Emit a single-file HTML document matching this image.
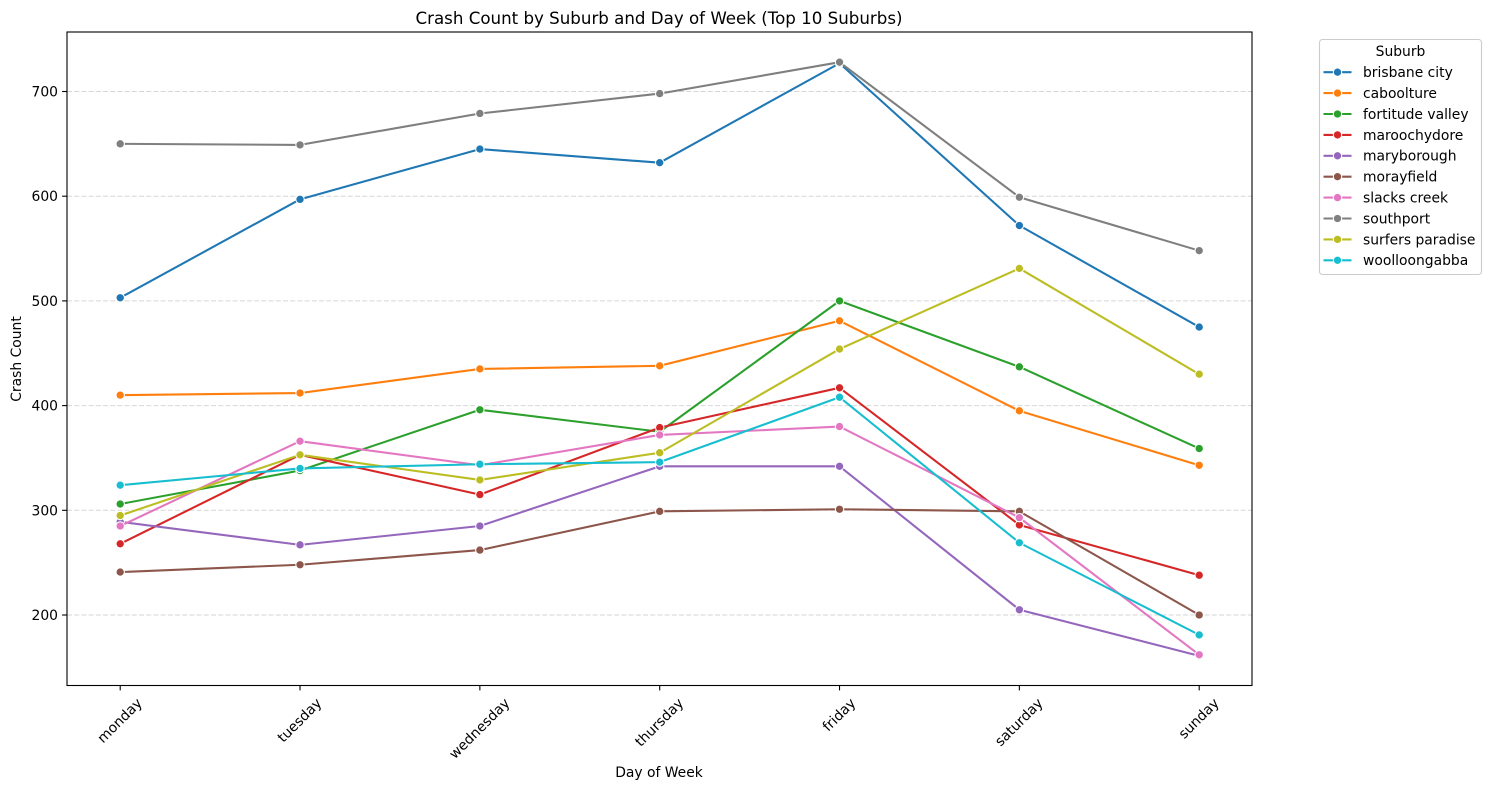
<!DOCTYPE html>
<html>
<head>
<meta charset="utf-8">
<title>Crash Count by Suburb and Day of Week</title>
<style>
html,body{margin:0;padding:0;background:#fff;}
svg{display:block;}
text{font-family:"DejaVu Sans","Liberation Sans",sans-serif;fill:#000;}
</style>
</head>
<body>
<svg id="chart" xmlns="http://www.w3.org/2000/svg" width="1491" height="790" viewBox="0 0 1491 790"></svg>
<script>
const days = ['monday','tuesday','wednesday','thursday','friday','saturday','sunday'];
const yTicks = [200,300,400,500,600,700];
const suburbs = ['brisbane city','caboolture','fortitude valley','maroochydore','maryborough','morayfield','slacks creek','southport','surfers paradise','woolloongabba'];
const colors = ['#1f77b4','#ff7f0e','#2ca02c','#d62728','#9467bd','#8c564b','#e377c2','#7f7f7f','#bcbd22','#17becf'];
const brisbaneCity = [503,597,645,632,727,572,475];
const caboolture = [410,412,435,438,481,395,343];
const fortitudeValley = [306,338,396,375,500,437,359];
const maroochydore = [268,353,315,379,417,286,238];
const maryborough = [289,267,285,342,342,205,161];
const morayfield = [241,248,262,299,301,299,200];
const slacksCreek = [285,366,343,372,380,293,162];
const southport = [650,649,679,698,728,599,548];
const surfersParadise = [295,353,329,355,454,531,430];
const woolloongabba = [324,340,344,346,408,269,181];
const seriesValues = [brisbaneCity,caboolture,fortitudeValley,maroochydore,maryborough,morayfield,slacksCreek,southport,surfersParadise,woolloongabba];

const NS = 'http://www.w3.org/2000/svg';
const svg = document.getElementById('chart');
function mk(tag, attrs, parent, txt){
  const el = document.createElementNS(NS, tag);
  for (const k in attrs) el.setAttribute(k, attrs[k]);
  if (txt !== undefined) el.textContent = txt;
  (parent || svg).appendChild(el);
  return el;
}
const plot = {left:67, right:1252, top:32, bottom:685.5};
function xScale(i){ return 120.2 + i * (1199.2 - 120.2) / (days.length - 1); }
function yScale(v){ return 615 - (v - 200) * (615 - 91.5) / 500; }

const bg = mk('rect', {x:0,y:0,width:1491,height:790,fill:'#fff'});



const title = mk('text', {x:659,y:24,'text-anchor':'middle','font-size':'16.67'}, svg, 'Crash Count by Suburb and Day of Week (Top 10 Suburbs)');



const gridG = mk('g', {});


yTicks.forEach(function(t){
  const y = yScale(t);
  const g = mk('line', {x1:plot.left,x2:plot.right,y1:y,y2:y,stroke:'#000','stroke-opacity':'0.16','stroke-width':'1','stroke-dasharray':'5 2.2'}, gridG);
  
  
});

const seriesG = mk('g', {});


suburbs.forEach(function(name, s){
  const vals = seriesValues[s];
  const key = name.replace(/ /g, '-');
  const g = mk('g', {}, seriesG);
  
  
  const pts = vals.map(function(v, i){ return xScale(i).toFixed(2) + ',' + yScale(v).toFixed(2); }).join(' ');
  const line = mk('polyline', {points:pts,fill:'none',stroke:colors[s],'stroke-width':'2.08','stroke-linejoin':'round','stroke-linecap':'square'}, g);
  
  
  vals.forEach(function(v, i){
    const p = mk('circle', {cx:xScale(i),cy:yScale(v),r:'4.2',fill:colors[s],stroke:'#fff','stroke-width':'1.04'}, g);
    
    
  });
});

const frame = mk('rect', {x:plot.left,y:plot.top,width:plot.right-plot.left,height:plot.bottom-plot.top,fill:'none',stroke:'#000','stroke-width':'1.1'});



const yAxis = mk('g', {});


yTicks.forEach(function(t){
  const y = yScale(t);
  const tick = mk('line', {x1:plot.left-4.9,x2:plot.left,y1:y,y2:y,stroke:'#000','stroke-width':'1.1'}, yAxis);
  
  
  const lab = mk('text', {x:plot.left-9,y:y+5,'text-anchor':'end','font-size':'13.89'}, yAxis, String(t));
  
  
});
const yTitle = mk('text', {x:0,y:0,'text-anchor':'middle','font-size':'13.89',transform:'translate(21 359) rotate(-90)'}, svg, 'Crash Count');



const xAxis = mk('g', {});


days.forEach(function(d, i){
  const x = xScale(i);
  const tick = mk('line', {x1:x,x2:x,y1:plot.bottom,y2:plot.bottom+4.9,stroke:'#000','stroke-width':'1.1'}, xAxis);
  
  
  const lab = mk('text', {x:0,y:0,'text-anchor':'middle','font-size':'13.89'}, xAxis, d);
  
  
  const w = lab.getComputedTextLength();
  const cy = 696 + (w + 13) * 0.3535;
  lab.setAttribute('transform', 'translate(' + (x - 0.5) + ' ' + cy + ') rotate(-45) translate(0 4.7)');
});
const xTitle = mk('text', {x:659,y:777,'text-anchor':'middle','font-size':'13.89'}, svg, 'Day of Week');



const legend = mk('g', {});


const legendBox = mk('rect', {x:1319.5,y:39.5,width:162,height:235,rx:'3',ry:'3',fill:'#fff','fill-opacity':'0.8',stroke:'#ccc','stroke-width':'1.1'}, legend);


const legendTitle = mk('text', {x:1400.5,y:56,'text-anchor':'middle','font-size':'13.89'}, legend, 'Suburb');


suburbs.forEach(function(name, s){
  const y = 72.2 + s * 20.9;
  const key = name.replace(/ /g, '-');
  const g = mk('g', {}, legend);
  
  
  const l = mk('line', {x1:1323.5,x2:1351.5,y1:y,y2:y,stroke:colors[s],'stroke-width':'2.08'}, g);
  
  
  const c = mk('circle', {cx:1337.5,cy:y,r:'4.2',fill:colors[s],stroke:'#fff','stroke-width':'1.04'}, g);
  
  
  const t = mk('text', {x:1363,y:y+4.9,'font-size':'13.89'}, g, name);
  
  
});
</script>
</body>
</html>
